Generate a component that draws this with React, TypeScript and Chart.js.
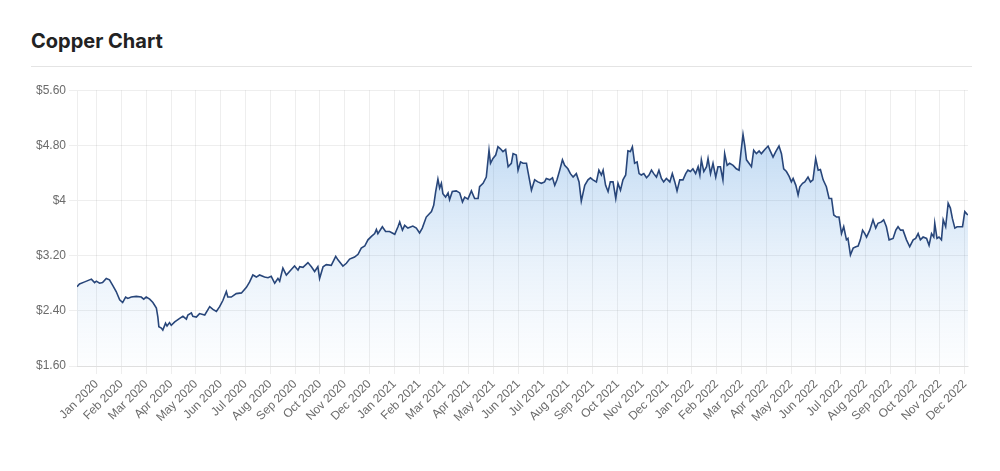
import React, { useEffect, useRef } from "react";
import { Chart, registerables } from "chart.js";

Chart.register(...registerables);

const monthLabels = [
  "Jan 2020", "Feb 2020", "Mar 2020", "Apr 2020", "May 2020", "Jun 2020",
  "Jul 2020", "Aug 2020", "Sep 2020", "Oct 2020", "Nov 2020", "Dec 2020",
  "Jan 2021", "Feb 2021", "Mar 2021", "Apr 2021", "May 2021", "Jun 2021",
  "Jul 2021", "Aug 2021", "Sep 2021", "Oct 2021", "Nov 2021", "Dec 2021",
  "Jan 2022", "Feb 2022", "Mar 2022", "Apr 2022", "May 2022", "Jun 2022",
  "Jul 2022", "Aug 2022", "Sep 2022", "Oct 2022", "Nov 2022", "Dec 2022",
];

const yTickValues = [1.6, 2.4, 3.2, 4, 4.8, 5.6];
const yTickLabels = ["$1.60", "$2.40", "$3.20", "$4", "$4.80", "$5.60"];

// position in months since 1 Jan 2020
const monthPos = [
  -0.79, -0.69, -0.48, -0.21, -0.08, -0.01, 0.12, 0.24, 0.39, 0.52, 0.65, 0.79, 0.93, 1.05, 1.17, 1.26,
  1.40, 1.60, 1.80, 1.90, 2.00, 2.14, 2.27, 2.41, 2.47, 2.51, 2.61, 2.67, 2.78, 2.84, 2.94, 3.01,
  3.15, 3.35, 3.48, 3.62, 3.68, 3.82, 3.88, 4.02, 4.15, 4.36, 4.56, 4.69, 4.83, 4.96, 5.09, 5.23,
  5.29, 5.43, 5.63, 5.84, 6.04, 6.17, 6.30, 6.44, 6.57, 6.77, 6.91, 7.04, 7.18, 7.31, 7.38,
  7.51, 7.65, 7.85, 7.98, 8.12, 8.19, 8.32, 8.52, 8.66, 8.79, 8.92, 8.99, 9.13, 9.26, 9.46, 9.64,
  9.73, 9.93, 10.07, 10.20, 10.40, 10.54, 10.67, 10.81, 10.94, 11.08, 11.21, 11.28, 11.34, 11.52, 11.65, 11.81,
  12.02, 12.15, 12.22, 12.33, 12.42, 12.55, 12.75, 12.89, 13.02, 13.13, 13.29, 13.50, 13.59, 13.67, 13.76, 13.83,
  13.90, 13.96, 14.07, 14.17, 14.23, 14.34, 14.50, 14.64, 14.75, 14.84, 14.97, 15.11, 15.24, 15.38, 15.44, 15.58,
  15.71, 15.82, 15.88, 15.98, 16.09, 16.18, 16.28,
  16.38, 16.49, 16.59, 16.72, 16.79, 16.92, 16.99, 17.09, 17.19, 17.33, 17.39, 17.53, 17.66, 17.79, 17.93, 18.06,
  18.13, 18.27, 18.38, 18.47, 18.56, 18.67, 18.78, 18.87, 19.00, 19.10, 19.21, 19.34, 19.45, 19.54, 19.68, 19.81,
  19.91, 20.01, 20.15, 20.25, 20.35, 20.42, 20.52, 20.62, 20.71, 20.82, 20.93, 21.02, 21.12, 21.22, 21.33, 21.42,
  21.52, 21.60, 21.69, 21.79, 21.87, 21.96, 22.06, 22.17, 22.27, 22.37, 22.46, 22.57, 22.67, 22.77, 22.86, 22.97,
  23.11, 23.21, 23.31, 23.40, 23.51, 23.64, 23.75, 23.84, 23.94, 24.04, 24.15, 24.25, 24.32, 24.38, 24.48, 24.59,
  24.65, 24.75, 24.85, 24.96, 25.05, 25.15, 25.25, 25.32, 25.42, 25.52, 25.66, 25.79, 25.90,
  25.97, 26.06, 26.13, 26.20, 26.30, 26.40, 26.49, 26.60, 26.71, 26.80, 26.94, 27.07, 27.17, 27.27, 27.38, 27.51,
  27.61, 27.70, 27.81, 27.92, 28.01, 28.08, 28.19, 28.28, 28.35, 28.46, 28.55, 28.68, 28.78, 28.88, 28.99, 29.09,
  29.18, 29.29, 29.42, 29.53, 29.63, 29.72, 29.83, 29.93, 30.03, 30.12, 30.23, 30.29, 30.39, 30.50, 30.61, 30.70,
  30.79, 30.88, 30.97, 31.04, 31.17, 31.30, 31.41, 31.50, 31.64, 31.73, 31.84, 31.95, 32.11, 32.22, 32.31, 32.41,
  32.51, 32.65, 32.78, 32.92, 33.02, 33.12, 33.21, 33.32, 33.46, 33.56, 33.66, 33.75, 33.79, 33.88, 33.96, 34.06,
  34.13, 34.23, 34.33, 34.42, 34.50, 34.60, 34.69, 34.83, 34.91, 35.00, 35.07, 35.13,
];

// copper price, USD per pound
const copperPrice = [
  2.75, 2.79, 2.82, 2.86, 2.81, 2.83, 2.80, 2.81, 2.87, 2.85, 2.77, 2.68, 2.56, 2.52, 2.60, 2.58,
  2.60, 2.61, 2.60, 2.57, 2.60, 2.57, 2.52, 2.44, 2.31, 2.17, 2.15, 2.12, 2.22, 2.18, 2.23, 2.19,
  2.24, 2.29, 2.32, 2.28, 2.34, 2.37, 2.32, 2.31, 2.36, 2.34, 2.46, 2.42, 2.39, 2.46, 2.55, 2.68,
  2.60, 2.60, 2.65, 2.66, 2.74, 2.82, 2.92, 2.89, 2.92, 2.89, 2.88, 2.90, 2.80, 2.87, 2.83,
  3.02, 2.92, 3.00, 3.05, 2.99, 3.04, 3.03, 3.10, 3.04, 2.97, 3.04, 2.87, 3.04, 3.07, 3.06, 3.19,
  3.14, 3.05, 3.09, 3.15, 3.18, 3.22, 3.31, 3.34, 3.43, 3.48, 3.52, 3.58, 3.52, 3.62, 3.55, 3.55,
  3.51, 3.62, 3.69, 3.57, 3.64, 3.60, 3.63, 3.60, 3.53, 3.60, 3.76, 3.84, 3.93, 4.13, 4.31, 4.18,
  4.25, 4.10, 4.05, 4.11, 4.01, 4.13, 4.14, 4.11, 3.98, 4.05, 4.02, 4.14, 4.03, 4.03, 4.20, 4.25,
  4.34, 4.73, 4.54, 4.61, 4.66, 4.78, 4.75,
  4.71, 4.74, 4.49, 4.54, 4.68, 4.66, 4.44, 4.56, 4.54, 4.54, 4.42, 4.15, 4.30, 4.27, 4.25, 4.27,
  4.32, 4.30, 4.33, 4.22, 4.30, 4.44, 4.59, 4.51, 4.46, 4.39, 4.34, 4.39, 4.27, 3.99, 4.22, 4.30,
  4.33, 4.30, 4.27, 4.44, 4.37, 4.44, 4.22, 4.13, 4.27, 4.27, 4.03, 4.25, 4.15, 4.30, 4.37, 4.72,
  4.71, 4.78, 4.54, 4.56, 4.39, 4.37, 4.39, 4.33, 4.37, 4.44, 4.39, 4.34, 4.44, 4.32, 4.27, 4.32,
  4.27, 4.39, 4.27, 4.14, 4.30, 4.30, 4.39, 4.44, 4.42, 4.46, 4.39, 4.49, 4.37, 4.59, 4.42, 4.49,
  4.61, 4.39, 4.54, 4.34, 4.49, 4.49, 4.30, 4.68, 4.51, 4.54, 4.51, 4.46, 4.44,
  4.68, 4.96, 4.80, 4.59, 4.54, 4.49, 4.73, 4.68, 4.72, 4.68, 4.74, 4.79, 4.71, 4.63, 4.71, 4.79,
  4.68, 4.46, 4.42, 4.35, 4.27, 4.32, 4.22, 4.08, 4.20, 4.25, 4.27, 4.34, 4.27, 4.30, 4.61, 4.44,
  4.45, 4.30, 4.20, 4.03, 4.03, 3.79, 3.76, 3.76, 3.52, 3.62, 3.43, 3.45, 3.21, 3.31, 3.33, 3.34,
  3.43, 3.57, 3.52, 3.47, 3.57, 3.72, 3.60, 3.67, 3.69, 3.72, 3.62, 3.43, 3.45, 3.57, 3.62, 3.57,
  3.57, 3.43, 3.33, 3.43, 3.45, 3.52, 3.43, 3.47, 3.45, 3.35, 3.52, 3.47, 3.67, 3.45, 3.47, 3.43,
  3.72, 3.62, 3.96, 3.89, 3.74, 3.60, 3.62, 3.62, 3.62, 3.84, 3.81, 3.79,
];

const FONT = "'Liberation Sans', Arial, Helvetica, sans-serif";
const GRID = "rgba(0,0,0,0.065)";

export default function App() {
  const ref = useRef<HTMLCanvasElement>(null);

  useEffect(() => {
    const canvas = ref.current;
    if (!canvas) return;
    const chart = new Chart(canvas, {
      type: "line",
      data: {
        datasets: [
          {
            data: monthPos.map((x, i) => ({ x, y: copperPrice[i] })),
            borderColor: "#28467a",
            borderWidth: 1.6,
            pointRadius: 0,
            tension: 0,
            fill: "start",
            backgroundColor: (c: any) => {
              const { chartArea, ctx } = c.chart;
              if (!chartArea) return "rgba(45,130,215,0.15)";
              const g = ctx.createLinearGradient(0, chartArea.top, 0, chartArea.bottom);
              g.addColorStop(0, "rgba(45,130,215,0.36)");
              g.addColorStop(0.4, "rgba(45,130,215,0.19)");
              g.addColorStop(0.6, "rgba(45,130,215,0.11)");
              g.addColorStop(0.8, "rgba(45,130,215,0.055)");
              g.addColorStop(1, "rgba(45,130,215,0.01)");
              return g;
            },
          },
        ],
      },
      options: {
        animation: false,
        responsive: false,
        layout: { padding: { top: 10, right: 16, left: 0, bottom: 0 } },
        plugins: { legend: { display: false }, tooltip: { enabled: false } },
        scales: {
          x: {
            type: "linear",
            min: monthPos[0],
            max: monthPos[monthPos.length - 1],
            afterBuildTicks: (s: any) => {
              s.ticks = monthLabels.map((_, i) => ({ value: i }));
            },
            afterFit: (s: any) => {
              s.height = 60;
            },
            ticks: {
              autoSkip: false,
              maxRotation: 45,
              minRotation: 45,
              color: "#6b6b6b",
              padding: 3,
              font: { family: FONT, size: 12 },
              callback: (v: any) => monthLabels[Math.round(v)] ?? "",
            },
            grid: { color: GRID, tickLength: 8 },
            border: { display: true, color: GRID },
          },
          y: {
            min: 1.6,
            max: 5.6,
            afterBuildTicks: (s: any) => {
              s.ticks = yTickValues.map((v) => ({ value: v }));
            },
            afterFit: (s: any) => {
              s.width = 69;
            },
            ticks: {
              color: "#6b6b6b",
              padding: 3,
              font: { family: FONT, size: 12 },
              callback: (v: any) => {
                const i = yTickValues.findIndex((t) => Math.abs(t - v) < 1e-6);
                return i >= 0 ? yTickLabels[i] : "";
              },
            },
            grid: { color: GRID, tickLength: 8 },
            border: { display: true, color: GRID },
          },
        },
      },
    });
    return () => chart.destroy();
  }, []);

  return (
    <div style={{ position: "relative", width: 984, height: 447 }}>
      <div
        style={{
          position: "absolute",
          left: 23,
          top: 21,
          fontFamily: "Inter, 'Open Sans', sans-serif",
          fontWeight: 700,
          fontSize: 20,
          lineHeight: "24px",
          color: "#222",
          whiteSpace: "nowrap",
        }}
      >
        Copper Chart
      </div>
      <div
        style={{
          position: "absolute",
          left: 23,
          top: 58,
          width: 941,
          height: 1,
          background: "#e4e4e4",
        }}
      />
      <canvas
        ref={ref}
        width={976}
        height={346}
        style={{ position: "absolute", left: 0, top: 72, width: 976, height: 346 }}
      />
    </div>
  );
}
